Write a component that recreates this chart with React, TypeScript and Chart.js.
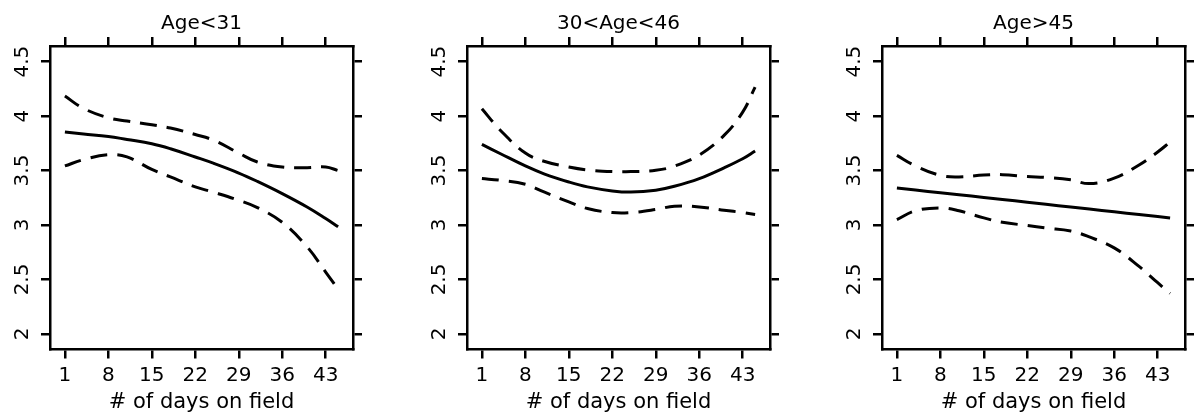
import React, { useEffect, useRef } from "react";
import { Chart, registerables } from "chart.js";

Chart.register(...registerables);

// ---- data ----
const days = [1, 4, 8, 11, 15, 18, 22, 25, 29, 32, 36, 40, 43, 45];
const xTicks = [1, 8, 15, 22, 29, 36, 43];
const yTicks = [2, 2.5, 3, 3.5, 4, 4.5];
const panelTitles = ["Age<31", "30<Age<46", "Age>45"];
const xAxisTitle = "# of days on field";

const youngFit = [3.853, 3.835, 3.813, 3.785, 3.746, 3.7, 3.624, 3.565, 3.477, 3.4, 3.288, 3.165, 3.059, 2.983];
const youngUpper = [4.183, 4.07, 3.984, 3.954, 3.92, 3.89, 3.83, 3.777, 3.66, 3.578, 3.532, 3.526, 3.532, 3.5];
const youngLower = [3.542, 3.6, 3.645, 3.625, 3.51, 3.441, 3.35, 3.3, 3.227, 3.16, 3.025, 2.8, 2.568, 2.409];

const midFit = [3.74, 3.654, 3.542, 3.47, 3.395, 3.35, 3.313, 3.302, 3.319, 3.355, 3.426, 3.525, 3.608, 3.679];
const midUpper = [4.067, 3.868, 3.66, 3.585, 3.532, 3.505, 3.49, 3.49, 3.502, 3.54, 3.642, 3.822, 4.036, 4.265];
const midLower = [3.426, 3.41, 3.374, 3.303, 3.212, 3.151, 3.114, 3.114, 3.142, 3.172, 3.166, 3.136, 3.114, 3.096];

const oldFit = [3.34, 3.321, 3.296, 3.278, 3.253, 3.234, 3.209, 3.19, 3.165, 3.146, 3.121, 3.096, 3.078, 3.065];
const oldUpper = [3.639, 3.542, 3.455, 3.441, 3.458, 3.462, 3.445, 3.437, 3.415, 3.38, 3.43, 3.55, 3.67, 3.761];
const oldLower = [3.05, 3.13, 3.157, 3.13, 3.065, 3.025, 2.995, 2.972, 2.945, 2.89, 2.79, 2.62, 2.47, 2.372];

// ---- style ----
const FONT = "DejaVu Sans";
const X_MIN = -1.4;
const X_MAX = 47.4;
const Y_MIN = 1.857;
const Y_MAX = 4.643;
const CANVAS_W = 400;
const CANVAS_H = 417;
const LINE_W = 2.5;

type PanelProps = {
  title: string;
  fit: number[];
  lower: number[];
  upper: number[];
  left: number;
};

function toPoints(vals: number[]) {
  return vals.map((v, i) => ({ x: days[i], y: v }));
}

function Panel({ title, fit, lower, upper, left }: PanelProps) {
  const ref = useRef<HTMLCanvasElement | null>(null);

  useEffect(() => {
    if (!ref.current) return;
    const grid = {
      display: true,
      drawOnChartArea: false,
      drawTicks: true,
      tickLength: 9,
      color: "#000",
      lineWidth: LINE_W,
    };
    const border = { display: true, color: "#000", width: LINE_W };
    const setX = (s: any) => {
      s.ticks = xTicks.map((v) => ({ value: v }));
    };
    const setY = (s: any) => {
      s.ticks = yTicks.map((v) => ({ value: v }));
    };
    const lineDs = (label: string, vals: number[], dashed: boolean) => ({
      label,
      data: toPoints(vals),
      xAxisID: "x",
      yAxisID: "y",
      borderColor: "#000",
      backgroundColor: "#000",
      borderWidth: 3,
      borderDash: dashed ? [17, 10] : [],
      borderCapStyle: "butt" as const,
      pointRadius: 0,
      fill: false,
      tension: 0.4,
    });

    const chart = new Chart(ref.current, {
      type: "line",
      data: {
        datasets: [
          lineDs("upper", upper, true),
          lineDs("fit", fit, false),
          lineDs("lower", lower, true),
        ],
      },
      options: {
        responsive: false,
        maintainAspectRatio: false,
        animation: false,
        devicePixelRatio: 1,
        layout: { padding: 0 },
        plugins: {
          legend: { display: false },
          tooltip: { enabled: false },
          title: { display: false },
        },
        scales: {
          x: {
            type: "linear",
            axis: "x",
            position: "bottom",
            min: X_MIN,
            max: X_MAX,
            afterBuildTicks: setX,
            afterFit: (s: any) => {
              s.height = CANVAS_H - 349.5;
            },
            ticks: {
              color: "#000",
              font: { family: FONT, size: 20, lineHeight: 1.2 },
              padding: 5,
              maxRotation: 0,
              autoSkip: false,
              callback: (v: any) => String(v),
            },
            grid,
            border,
            title: {
              display: true,
              text: xAxisTitle,
              color: "#000",
              font: { family: FONT, size: 21, lineHeight: 1.2 },
              padding: { top: 0, bottom: 2 },
            },
          },
          x2: {
            type: "linear",
            axis: "x",
            position: "top",
            min: X_MIN,
            max: X_MAX,
            afterBuildTicks: setX,
            afterFit: (s: any) => {
              s.height = 46;
            },
            ticks: { display: false },
            grid,
            border,
            title: {
              display: true,
              text: title,
              color: "#000",
              font: { family: FONT, size: 20, lineHeight: 1.2 },
              padding: { top: 12, bottom: 0 },
            },
          },
          y: {
            type: "linear",
            axis: "y",
            position: "left",
            min: Y_MIN,
            max: Y_MAX,
            afterBuildTicks: setY,
            afterFit: (s: any) => {
              s.width = 50;
            },
            ticks: {
              color: "#000",
              font: { family: FONT, size: 20, lineHeight: 1.2 },
              padding: 2.5,
              minRotation: 90,
              maxRotation: 90,
              crossAlign: "center",
              autoSkip: false,
              callback: (v: any) => String(v),
            },
            grid,
            border,
          },
          y2: {
            type: "linear",
            axis: "y",
            position: "right",
            min: Y_MIN,
            max: Y_MAX,
            afterBuildTicks: setY,
            afterFit: (s: any) => {
              s.width = CANVAS_W - 353;
            },
            ticks: { display: false },
            grid,
            border,
          },
        },
      } as any,
    });
    return () => chart.destroy();
  }, [title, fit, lower, upper]);

  return (
    <canvas
      ref={ref}
      width={CANVAS_W}
      height={CANVAS_H}
      style={{ position: "absolute", left, top: 0, width: CANVAS_W, height: CANVAS_H }}
    />
  );
}

export default function App() {
  return (
    <div
      style={{
        position: "absolute",
        left: 0,
        top: 0,
        width: 1194,
        height: 417,
        overflow: "hidden",
        background: "#fff",
      }}
    >
      <Panel title={panelTitles[0]} fit={youngFit} upper={youngUpper} lower={youngLower} left={0} />
      <Panel title={panelTitles[1]} fit={midFit} upper={midUpper} lower={midLower} left={417} />
      <Panel title={panelTitles[2]} fit={oldFit} upper={oldUpper} lower={oldLower} left={832} />
    </div>
  );
}
